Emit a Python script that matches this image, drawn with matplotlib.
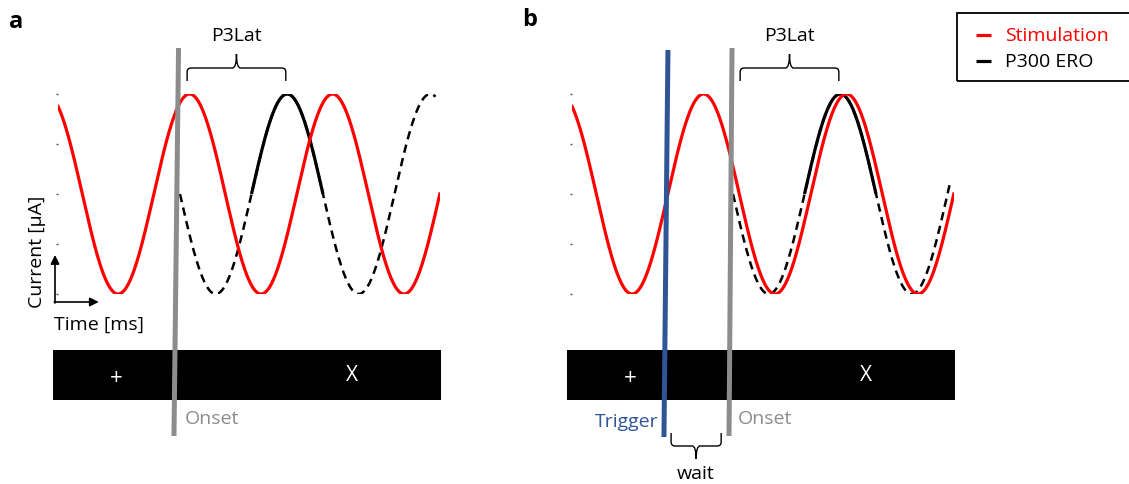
import numpy as np
import matplotlib
matplotlib.use("Agg")
import matplotlib.pyplot as plt
from matplotlib.path import Path
from matplotlib.patches import PathPatch, Rectangle
from matplotlib.lines import Line2D

plt.rcParams["font.family"] = ["Open Sans", "DejaVu Sans"]
plt.rcParams["lines.scale_dashes"] = False

# ---- signal parameters (time in ms, current in arbitrary units) ----
PERIOD_MS = 100.0          # oscillation period of stimulation and ERO
STIM_TROUGH_MS = 42.0      # first trough of the stimulation current
T_END = 267.0              # length of the shown recording
ERO_END = 264.0
P3_LATENCY = 75.0          # ERO peak after stimulus onset
ERO_SOLID = (50.0, 100.0)  # highlighted positive lobe of the ERO (after onset)

# panel a: stimulation not aligned to the ERO
ONSET_A = 85.3
ONSET_LINE_A = (84.3, 81.1)        # (top, bottom) of the onset marker
# panel b: stimulation started by a trigger, ERO locked to it
ONSET_B = 112.6
ONSET_LINE_B = (111.9, 109.8)
TRIGGER_LINE_B = (67.1, 64.3)

# stimulus display bar and its symbols
BAR_T = (-3.8, 268.0)
BAR_V = (-2.06, -1.56)
FIXATION_T = 40.6
TARGET_T = 205.6

LEGEND_LABELS = ["Stimulation", "P300 ERO"]

RED = "#ff0000"
GREY = "#8c8c8c"
BLUE = "#2f5597"
FS = 14

W, H = 1129, 484
fig = plt.figure(figsize=(W / 100, H / 100), dpi=100)

PX_PER_MS = 1.43
PX_PER_V = 100.0


def make_axes(left_px):
    ax = fig.add_axes([left_px / W, (H - 294) / H, T_END * PX_PER_MS / W, 200 / H])
    ax.set_xlim(0, T_END)
    ax.set_ylim(-1, 1)
    for s in ax.spines.values():
        s.set_visible(False)
    ax.set_xticks([])
    ax.set_yticks([-1, -0.5, 0, 0.5, 1])
    ax.set_yticklabels([])
    ax.tick_params(axis="y", length=1.2, width=1.0, color="#555555", direction="out")
    return ax


def brace(ax, x0, x1, y_end, y_bar, y_tip, lw=1.0):
    rx = 4 / PX_PER_MS
    ry = 4 / PX_PER_V
    d = np.sign(y_tip - y_bar)
    xm = 0.5 * (x0 + x1)
    verts = [
        (x0, y_end), (x0, y_bar - d * ry),
        (x0, y_bar), (x0 + rx, y_bar),
        (xm - rx, y_bar),
        (xm, y_bar), (xm, y_tip),
        (xm, y_bar), (xm + rx, y_bar),
        (x1 - rx, y_bar),
        (x1, y_bar), (x1, y_bar - d * ry),
        (x1, y_end),
    ]
    codes = [Path.MOVETO, Path.LINETO,
             Path.CURVE3, Path.CURVE3,
             Path.LINETO,
             Path.CURVE3, Path.CURVE3,
             Path.CURVE3, Path.CURVE3,
             Path.LINETO,
             Path.CURVE3, Path.CURVE3,
             Path.LINETO]
    ax.add_patch(PathPatch(Path(verts, codes), fill=False, lw=lw,
                           edgecolor="black", clip_on=False))


def draw_panel(ax, onset, onset_line, trigger_line=None):
    t = np.linspace(0, T_END, 800)
    stim = -np.cos(2 * np.pi * (t - STIM_TROUGH_MS) / PERIOD_MS)

    te = np.linspace(onset, ERO_END, 600)
    ero = -np.sin(2 * np.pi * (te - onset) / PERIOD_MS)
    ax.plot(te, ero, color="black", lw=1.8, dashes=(6, 4), zorder=2)
    ts = np.linspace(onset + ERO_SOLID[0], onset + ERO_SOLID[1], 200)
    ax.plot(ts, -np.sin(2 * np.pi * (ts - onset) / PERIOD_MS),
            color="black", lw=2.3, zorder=3, solid_capstyle="butt")
    ax.plot(t, stim, color=RED, lw=2.3, zorder=4)

    # stimulus display bar
    ax.add_patch(Rectangle((BAR_T[0], BAR_V[0]), BAR_T[1] - BAR_T[0],
                           BAR_V[1] - BAR_V[0], facecolor="black",
                           edgecolor="none", clip_on=False, zorder=5))
    ax.text(FIXATION_T, -1.84, "+", color="white", fontsize=16,
            ha="center", va="center", zorder=6)
    ax.text(TARGET_T, -1.81, "X", color="white", fontsize=15,
            ha="center", va="center", zorder=6)

    # onset marker
    ax.add_line(Line2D(onset_line, (1.46, -2.42), color=GREY, lw=3.6,
                       clip_on=False, zorder=7, solid_capstyle="butt"))
    ax.text(onset + 3.0, -2.25, "Onset", color=GREY, fontsize=FS,
            ha="left", va="center")

    if trigger_line is not None:
        ax.add_line(Line2D(trigger_line, (1.44, -2.43), color=BLUE, lw=3.6,
                           clip_on=False, zorder=7, solid_capstyle="butt"))
        ax.text(trigger_line[1] - 4.0, -2.28, "Trigger", color=BLUE,
                fontsize=FS, ha="right", va="center")
        w0, w1 = trigger_line[1] + 5.0, onset_line[1] - 5.5
        brace(ax, w0, w1, -2.39, -2.52, -2.65)
        ax.text(0.5 * (w0 + w1), -2.80, "wait", fontsize=FS,
                ha="center", va="center")

    # P3 latency
    p0, p1 = onset + 5.0, onset + P3_LATENCY - 1.0
    brace(ax, p0, p1, 1.13, 1.26, 1.40)
    ax.text(0.5 * (p0 + p1), 1.58, "P3Lat", fontsize=FS,
            ha="center", va="center")


ax_a = make_axes(58)
draw_panel(ax_a, ONSET_A, ONSET_LINE_A)

# axis arrows for panel a
arrow_kw = dict(arrowstyle="-|>", color="black", lw=1.2, mutation_scale=13,
                shrinkA=0, shrinkB=0)
ax_a.annotate("", xy=(-2.1, -0.61), xytext=(-2.1, -1.09),
              arrowprops=arrow_kw, annotation_clip=False)
ax_a.annotate("", xy=(28.5, -1.08), xytext=(-2.6, -1.08),
              arrowprops=arrow_kw, annotation_clip=False)
ax_a.text(-14.7, -0.58, "Current [µA]", fontsize=FS, rotation=90,
          ha="center", va="center")
ax_a.text(-2.5, -1.31, "Time [ms]", fontsize=FS, ha="left", va="center")

ax_b = make_axes(572)
draw_panel(ax_b, ONSET_B, ONSET_LINE_B, TRIGGER_LINE_B)

fig.text(16 / W, 1 - 22 / H, "a", fontsize=17, fontweight="bold",
         ha="center", va="center")
fig.text(530 / W, 1 - 20 / H, "b", fontsize=17, fontweight="bold",
         ha="center", va="center")

# legend box (open towards the right edge of the figure)
def fx(px):
    return px / W


def fy(py):
    return 1 - py / H


fig.patches.append(Rectangle((fx(957), fy(81)), fx(200), 68 / H, fill=False,
                             edgecolor="black", lw=1.3,
                             transform=fig.transFigure, figure=fig))
for label, color, py in zip(LEGEND_LABELS, [RED, "black"], [35, 61]):
    fig.lines.append(Line2D([fx(976), fx(991)], [fy(py), fy(py)], color=color,
                            lw=2.3, transform=fig.transFigure, figure=fig,
                            solid_capstyle="butt"))
    fig.text(fx(1005), fy(py + 1), label, color=color, fontsize=FS,
             ha="left", va="center")

fig.savefig("out.png", dpi=100)
